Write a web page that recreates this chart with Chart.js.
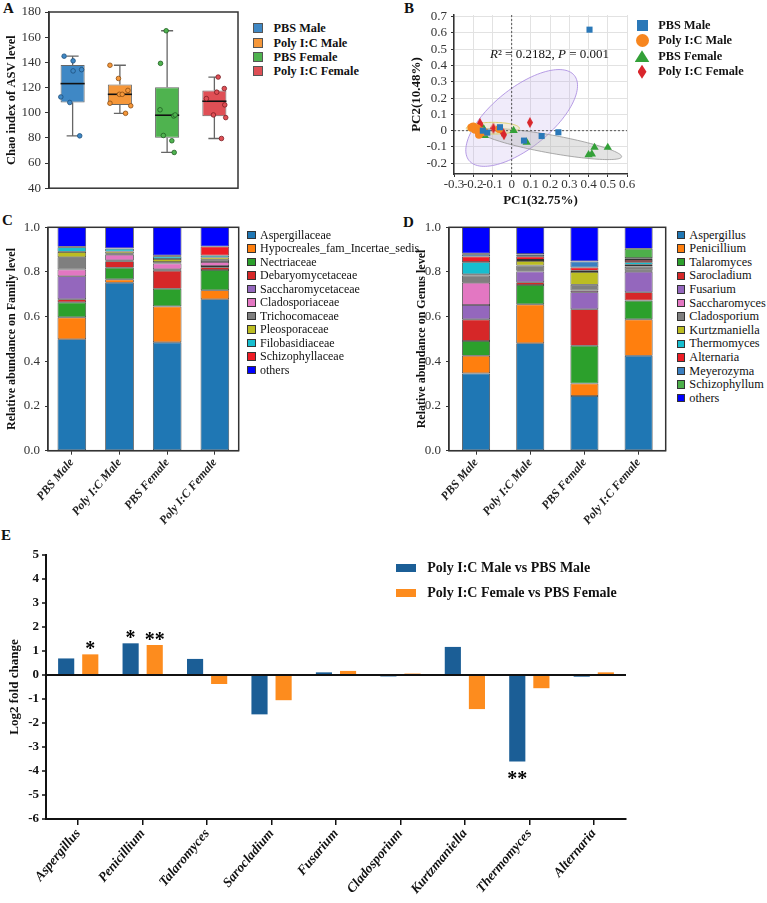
<!DOCTYPE html>
<html>
<head>
<meta charset="utf-8">
<script src="https://cdn.jsdelivr.net/npm/chart.js@4.4.1/dist/chart.umd.min.js"></script>
<style>
  body { margin: 0; background: #fff; font-family: "Liberation Serif", "Times New Roman", serif; color: #111; }
  #page { position: relative; width: 767px; height: 903px; overflow: hidden; }
  .panel { position: absolute; }
  .letter { position: absolute; font-weight: bold; font-size: 15px; line-height: 16px; }
  .legend-row { position: absolute; white-space: nowrap; }
  .legend-mark { position: absolute; box-sizing: border-box; }
  .stat { position: absolute; font-size: 13px; white-space: nowrap; line-height: 16px; }
</style>
</head>
<body>
<div id="page">
  <div class="letter" style="left:3px;top:0px">A</div>
  <div class="letter" style="left:404px;top:0px">B</div>
  <div class="letter" style="left:2px;top:212px">C</div>
  <div class="letter" style="left:403px;top:214px">D</div>
  <div class="letter" style="left:1px;top:527px">E</div>

  <canvas class="panel" id="chartA" width="245" height="200" style="left:0;top:0"></canvas>
  <canvas class="panel" id="chartB" width="259" height="210" style="left:380px;top:0"></canvas>
  <canvas class="panel" id="chartC" width="245" height="320" style="left:0;top:210px"></canvas>
  <canvas class="panel" id="chartD" width="290" height="320" style="left:380px;top:210px"></canvas>
  <canvas class="panel" id="chartE" width="767" height="373" style="left:0;top:530px"></canvas>

  <div class="stat" style="left:490px;top:46px"><i>R</i>² = 0.2182, <i>P</i> = 0.001</div>
</div>

<script>
const serif = "'Liberation Serif', 'Times New Roman', serif";
Chart.defaults.font.family = serif;
Chart.defaults.color = "#222";
Chart.defaults.animation = false;
Chart.defaults.plugins.legend.display = false;
Chart.defaults.plugins.tooltip.enabled = false;

// ---------- A: Chao index ----------
const groupsA = ["PBS Male", "Poly I:C Male", "PBS Female", "Poly I:C Female"];
const ticksA = [40, 60, 80, 100, 120, 140, 160, 180];
const boxMin = [81.6, 99.5, 68.4, 79.5];
const boxQ1 = [108.1, 106.2, 80.1, 97.2];
const boxMedian = [123.1, 114.6, 98.0, 109.1];
const boxQ3 = [137.9, 122.3, 120.2, 117.7];
const boxMax = [144.9, 137.7, 165.1, 128.3];
const chaoPBSMale = [144.9, 141.2, 133.2, 134.2, 112.5, 108.1, 81.6];
const chaoPolyMale = [137.7, 127.2, 114.6, 114.6, 117.7, 107.5, 105.5, 99.5];
const chaoPBSFemale = [165.1, 139.2, 102.3, 97.4, 98.2, 81.9, 77.7, 68.4];
const chaoPolyFemale = [128.3, 111.2, 116.3, 119.2, 106.2, 98.2, 96.1, 79.5];
// horizontal jitter of the dots, in category widths
const jitterPBSMale = [-0.18, 0.01, 0.01, 0.19, -0.25, -0.06, 0.15];
const jitterPolyMale = [-0.21, -0.03, -0.01, 0.05, 0.17, -0.21, 0.23, 0.12];
const jitterPBSFemale = [-0.02, -0.14, -0.15, 0.14, 0.17, -0.08, 0.1, 0.15];
const jitterPolyFemale = [0.08, -0.17, 0.05, 0.21, 0.22, -0.02, 0.24, 0.15];

// ---------- B: PCoA ----------
const pcTicksX = [-0.3, -0.2, -0.1, 0, 0.1, 0.2, 0.3, 0.4, 0.5, 0.6];
const pcTicksY = [-0.2, -0.1, 0, 0.1, 0.2, 0.3, 0.4, 0.5, 0.6, 0.7];
const pc1PBSMale = [0.405, 0.243, 0.156, 0.064, -0.061, -0.127, -0.15];
const pc2PBSMale = [0.62, -0.01, -0.033, -0.061, 0.021, -0.012, 0.0];
const pc1PolyMale = [-0.2, -0.19, -0.17, -0.18, -0.065, -0.16, -0.21, -0.14];
const pc2PolyMale = [0.025, 0.005, -0.025, 0.015, 0.01, 0.0, 0.02, -0.01];
const pc1PBSFemale = [0.01, 0.078, 0.431, 0.5, 0.4, 0.417, -0.14, -0.145];
const pc2PBSFemale = [0.0, -0.071, -0.103, -0.103, -0.148, -0.144, -0.03, 0.01];
const pc1PolyFemale = [0.095, -0.165, -0.095, -0.04, -0.18, -0.175, -0.05, -0.155];
const pc2PolyFemale = [0.05, 0.045, 0.015, -0.025, 0.0, -0.01, -0.005, 0.02];
// confidence ellipses: centre and two conjugate semi-axes, in PC units
const ellipseCenter = [[0.052, 0.078], [0.203, -0.082], [-0.098, 0.015]];
const ellipseAxisU = [[0.274, 0.261], [0.369, -0.0785], [0.138, 0.0]];
const ellipseAxisV = [[0.097, -0.142], [-0.0083, -0.0544], [0.0, 0.036]];

// ---------- C: family level ----------
const barGroups = ["PBS Male", "Poly I:C Male", "PBS Female", "Poly I:C Female"];
const abundanceTicks = [0, 0.2, 0.4, 0.6, 0.8, 1.0];
const familyNames = ["Aspergillaceae", "Hypocreales_fam_Incertae_sedis", "Nectriaceae", "Debaryomycetaceae",
  "Saccharomycetaceae", "Cladosporiaceae", "Trichocomaceae", "Pleosporaceae", "Filobasidiaceae",
  "Schizophyllaceae", "others"];
const famAspergillaceae = [0.499, 0.752, 0.485, 0.678];
const famHypocreales = [0.098, 0.015, 0.161, 0.040];
const famNectriaceae = [0.067, 0.052, 0.079, 0.091];
const famDebaryomycetaceae = [0.014, 0.029, 0.081, 0.012];
const famSaccharomycetaceae = [0.103, 0.004, 0.006, 0.006];
const famCladosporiaceae = [0.030, 0.025, 0.026, 0.018];
const famTrichocomaceae = [0.055, 0.005, 0.006, 0.010];
const famPleosporaceae = [0.024, 0.010, 0.014, 0.010];
const famFilobasidiaceae = [0.021, 0.012, 0.012, 0.009];
const famSchizophyllaceae = [0.002, 0.002, 0.003, 0.040];
const famOthers = [0.087, 0.094, 0.127, 0.086];

// ---------- D: genus level ----------
const genusNames = ["Aspergillus", "Penicillium", "Talaromyces", "Sarocladium", "Fusarium", "Saccharomyces",
  "Cladosporium", "Kurtzmaniella", "Thermomyces", "Alternaria", "Meyerozyma", "Schizophyllum", "others"];
const genAspergillus = [0.346, 0.481, 0.245, 0.425];
const genPenicillium = [0.079, 0.174, 0.056, 0.163];
const genTalaromyces = [0.066, 0.087, 0.169, 0.084];
const genSarocladium = [0.097, 0.012, 0.163, 0.037];
const genFusarium = [0.064, 0.048, 0.076, 0.092];
const genSaccharomyces = [0.100, 0.003, 0.008, 0.005];
const genCladosporium = [0.032, 0.024, 0.026, 0.018];
const genKurtzmaniella = [0.006, 0.020, 0.057, 0.008];
const genThermomyces = [0.054, 0.005, 0.005, 0.012];
const genAlternaria = [0.025, 0.016, 0.015, 0.010];
const genMeyerozyma = [0.010, 0.008, 0.027, 0.008];
const genSchizophyllum = [0.003, 0.002, 0.001, 0.042];
const genOthers = [0.118, 0.120, 0.152, 0.096];

// ---------- E: log2 fold change ----------
const genusE = ["Aspergillus", "Penicillium", "Talaromyces", "Sarocladium", "Fusarium", "Cladosporium",
  "Kurtzmaniella", "Thermomyces", "Alternaria"];
const ticksE = [-6, -5, -4, -3, -2, -1, 0, 1, 2, 3, 4, 5];
const log2Male = [0.69, 1.32, 0.67, -1.64, 0.11, -0.06, 1.17, -3.6, -0.07];
const log2Female = [0.86, 1.25, -0.375, -1.05, 0.17, 0.06, -1.42, -0.55, 0.11];
const sigMale = ["", "*", "", "", "", "", "", "**", ""];
const sigFemale = ["*", "**", "", "", "", "", "", "", ""];
const seriesE = ["Poly I:C Male vs PBS Male", "Poly I:C Female vs PBS Female"];

// ---------- colours ----------
const colorsA = ["#3f88c5", "#f5973a", "#4fb34f", "#df4f55"];
const dotBorderA = ["#1d4f7c", "#8c4c12", "#1f5f22", "#7c1c22"];
const colorsB = ["#2a78b8", "#f7861f", "#33a038", "#d9262c"];
const familyColors = ["#1f77b4", "#ff7f0e", "#2ca02c", "#d62728", "#9467bd", "#e377c2", "#7f7f7f",
  "#bcbd22", "#17becf", "#ee1c25", "#0000ff"];
const genusColors = ["#1f77b4", "#ff7f0e", "#2ca02c", "#d62728", "#9467bd", "#e377c2", "#7f7f7f",
  "#bcbd22", "#17becf", "#ee1c25", "#3a7fc1", "#4daf4a", "#0000ff"];
const colorsE = ["#1b5e96", "#fd8c1e"];

const setTicks = (values) => (scale) => { scale.ticks = values.map((v) => ({ value: v })); };

const framePlugin = {
  id: "frame",
  afterDraw(chart) {
    const { ctx, chartArea: a } = chart;
    ctx.save();
    ctx.strokeStyle = "#333";
    ctx.lineWidth = 1.5;
    ctx.strokeRect(a.left, a.top, a.right - a.left, a.bottom - a.top);
    ctx.restore();
  }
};

// ---------- chart A ----------
const boxPlugin = {
  id: "boxWhisker",
  beforeDatasetsDraw(chart) {
    const { ctx } = chart;
    const x = chart.scales.x;
    const y = chart.scales.y;
    ctx.save();
    ctx.strokeStyle = "#666";
    ctx.lineWidth = 1.3;
    groupsA.forEach((_, i) => {
      const cx = x.getPixelForValue(i);
      const top = y.getPixelForValue(boxMax[i]);
      const bottom = y.getPixelForValue(boxMin[i]);
      ctx.beginPath();
      ctx.moveTo(cx, top);
      ctx.lineTo(cx, y.getPixelForValue(boxQ3[i]));
      ctx.moveTo(cx, y.getPixelForValue(boxQ1[i]));
      ctx.lineTo(cx, bottom);
      ctx.moveTo(cx - 6, top);
      ctx.lineTo(cx + 6, top);
      ctx.moveTo(cx - 6, bottom);
      ctx.lineTo(cx + 6, bottom);
      ctx.stroke();
    });
    ctx.restore();
  },
  afterDatasetDraw(chart, args) {
    if (args.index !== 0) return;
    const { ctx } = chart;
    const y = chart.scales.y;
    ctx.save();
    ctx.strokeStyle = "#111";
    ctx.lineWidth = 1.6;
    args.meta.data.forEach((bar, i) => {
      const my = y.getPixelForValue(boxMedian[i]);
      ctx.beginPath();
      ctx.moveTo(bar.x - bar.width / 2, my);
      ctx.lineTo(bar.x + bar.width / 2, my);
      ctx.stroke();
    });
    ctx.restore();
  }
};

const chaoSeries = [chaoPBSMale, chaoPolyMale, chaoPBSFemale, chaoPolyFemale];
const jitterSeries = [jitterPBSMale, jitterPolyMale, jitterPBSFemale, jitterPolyFemale];

new Chart(document.getElementById("chartA"), {
  type: "bar",
  data: {
    datasets: [
      {
        type: "bar",
        data: groupsA.map((g, i) => ({ x: i, y: [boxQ1[i], boxQ3[i]] })),
        backgroundColor: colorsA,
        borderColor: "#666",
        borderWidth: 1,
        borderSkipped: false,
        grouped: false,
        barPercentage: 0.51,
        categoryPercentage: 1,
        order: 2
      },
      ...chaoSeries.map((values, g) => ({
        type: "scatter",
        label: groupsA[g],
        data: values.map((v, k) => ({ x: g + jitterSeries[g][k], y: v })),
        pointRadius: 2.3,
        pointBackgroundColor: colorsA[g],
        pointBorderColor: dotBorderA[g],
        pointBorderWidth: 0.8,
        order: 1
      }))
    ]
  },
  options: {
    responsive: false,
    layout: { padding: { top: 12, right: 7, left: 0, bottom: 0 } },
    scales: {
      x: {
        type: "linear",
        min: -0.5,
        max: 3.5,
        offset: false,
        afterFit: (s) => { s.height = 10; },
        ticks: { display: false },
        grid: { display: false },
        border: { display: false }
      },
      y: {
        min: 40,
        max: 180,
        afterBuildTicks: setTicks(ticksA),
        afterFit: (s) => { s.width = 49; },
        ticks: { font: { size: 13 }, color: "#333", padding: 4, autoSkip: false },
        grid: { drawOnChartArea: false, tickLength: 4, color: "#333" },
        border: { color: "#333", width: 1.5 },
        title: {
          display: true, text: "Chao index of ASV level", color: "#111",
          font: { size: 12.5, weight: "bold" }, padding: { top: 4.5, bottom: 0 }
        }
      }
    }
  },
  plugins: [boxPlugin, framePlugin]
});

// ---------- chart B ----------
function makeDiamond(w, h, color) {
  const c = document.createElement("canvas");
  c.width = w;
  c.height = h;
  const g = c.getContext("2d");
  g.fillStyle = color;
  g.beginPath();
  g.moveTo(w / 2, 0);
  g.lineTo(w, h / 2);
  g.lineTo(w / 2, h);
  g.lineTo(0, h / 2);
  g.closePath();
  g.fill();
  return c;
}

const ellipseFill = ["rgba(185,165,230,0.22)", "rgba(175,175,175,0.35)", "rgba(240,232,160,0.35)"];
const ellipseStroke = ["rgba(170,140,225,0.85)", "rgba(150,150,150,0.8)", "rgba(215,205,100,0.9)"];

const pcoaPlugin = {
  id: "pcoaExtras",
  beforeDatasetsDraw(chart) {
    const { ctx, chartArea: a } = chart;
    const x = chart.scales.x;
    const y = chart.scales.y;
    ctx.save();
    ellipseCenter.forEach((c, e) => {
      const u = ellipseAxisU[e];
      const v = ellipseAxisV[e];
      ctx.beginPath();
      for (let s = 0; s <= 120; s++) {
        const t = (s / 120) * Math.PI * 2;
        const px = x.getPixelForValue(c[0] + Math.cos(t) * u[0] + Math.sin(t) * v[0]);
        const py = y.getPixelForValue(c[1] + Math.cos(t) * u[1] + Math.sin(t) * v[1]);
        if (s === 0) ctx.moveTo(px, py); else ctx.lineTo(px, py);
      }
      ctx.closePath();
      ctx.fillStyle = ellipseFill[e];
      ctx.fill();
      ctx.strokeStyle = ellipseStroke[e];
      ctx.lineWidth = 1;
      ctx.stroke();
    });
    ctx.strokeStyle = "#555";
    ctx.lineWidth = 1;
    ctx.setLineDash([2, 2]);
    const zx = x.getPixelForValue(0);
    const zy = y.getPixelForValue(0);
    ctx.beginPath();
    ctx.moveTo(zx, a.top);
    ctx.lineTo(zx, a.bottom);
    ctx.moveTo(a.left, zy);
    ctx.lineTo(a.right, zy);
    ctx.stroke();
    ctx.restore();
  }
};

const pcSeries = [
  [pc1PBSMale, pc2PBSMale, "rect", 4.3],
  [pc1PolyMale, pc2PolyMale, "circle", 4],
  [pc1PBSFemale, pc2PBSFemale, "triangle", 4.8],
  [pc1PolyFemale, pc2PolyFemale, makeDiamond(6, 11, colorsB[3]), 5]
];

new Chart(document.getElementById("chartB"), {
  type: "scatter",
  data: {
    datasets: pcSeries.map(([xs, ys, style, r], g) => ({
      label: groupsA[g],
      data: xs.map((v, k) => ({ x: v, y: ys[k] })),
      pointStyle: style,
      pointRadius: r,
      backgroundColor: colorsB[g],
      borderWidth: 0
    }))
  },
  options: {
    responsive: false,
    layout: { padding: { top: 15, right: 12, left: 0, bottom: 0 } },
    scales: {
      x: {
        type: "linear",
        min: -0.3,
        max: 0.6,
        afterBuildTicks: setTicks(pcTicksX),
        afterFit: (s) => { s.height = 36; },
        ticks: {
          font: { size: 13 }, color: "#333", padding: 0, maxRotation: 0, autoSkip: false,
          callback: (v) => String(v)
        },
        grid: { color: "#e2e2e2", tickColor: "#333", tickLength: 3 },
        border: { color: "#333", width: 1.5 },
        title: {
          display: true, text: "PC1(32.75%)", color: "#111",
          font: { size: 13, weight: "bold" }, padding: { top: 0, bottom: 2 }
        }
      },
      y: {
        type: "linear",
        min: -0.266,
        max: 0.71,
        afterBuildTicks: setTicks(pcTicksY),
        afterFit: (s) => { s.width = 74; },
        ticks: { font: { size: 13 }, color: "#333", padding: 4, autoSkip: false, callback: (v) => String(v) },
        grid: { color: "#e2e2e2", tickColor: "#333", tickLength: 3 },
        border: { color: "#333", width: 1.5 },
        title: {
          display: true, text: "PC2(10.48%)", color: "#111",
          font: { size: 13, weight: "bold" }, padding: { top: 29, bottom: 0 }
        }
      }
    }
  },
  plugins: [pcoaPlugin]
});

// ---------- charts C and D ----------
function stackedConfig(names, series, colors, yTitle, yWidth, titlePad, rightPad, barPct) {
  return {
    type: "bar",
    data: {
      labels: barGroups,
      datasets: names.map((name, k) => ({
        label: name,
        data: series[k],
        backgroundColor: colors[k],
        borderColor: "#333",
        borderWidth: 0.8,
        borderSkipped: false,
        barPercentage: barPct,
        categoryPercentage: 1
      }))
    },
    options: {
      responsive: false,
      layout: { padding: { top: 17.3, right: rightPad, left: 0, bottom: 0 } },
      scales: {
        x: {
          stacked: true,
          afterFit: (s) => { s.height = 79.3; },
          ticks: {
            minRotation: 50, maxRotation: 50, padding: 1, color: "#222", autoSkip: false,
            font: { size: 12, weight: "bold", style: "italic" }
          },
          grid: { drawOnChartArea: false, offset: false, tickLength: 4, color: "#333" },
          border: { color: "#333", width: 1.2 }
        },
        y: {
          stacked: true,
          min: 0,
          max: 1,
          afterBuildTicks: setTicks(abundanceTicks),
          afterFit: (s) => { s.width = yWidth; },
          ticks: { font: { size: 13 }, color: "#333", padding: 5, autoSkip: false, callback: (v) => v.toFixed(1) },
          grid: { drawOnChartArea: false, tickLength: 3, color: "#333" },
          border: { color: "#333", width: 1.2 },
          title: {
            display: true, text: yTitle, color: "#111",
            font: { size: 12, weight: "bold" }, padding: { top: titlePad, bottom: 0 }
          }
        }
      }
    },
    plugins: [framePlugin]
  };
}

const familySeries = [famAspergillaceae, famHypocreales, famNectriaceae, famDebaryomycetaceae,
  famSaccharomycetaceae, famCladosporiaceae, famTrichocomaceae, famPleosporaceae, famFilobasidiaceae,
  famSchizophyllaceae, famOthers];
const genusSeries = [genAspergillus, genPenicillium, genTalaromyces, genSarocladium, genFusarium,
  genSaccharomyces, genCladosporium, genKurtzmaniella, genThermomyces, genAlternaria, genMeyerozyma,
  genSchizophyllum, genOthers];

new Chart(document.getElementById("chartC"),
  stackedConfig(familyNames, familySeries, familyColors, "Relative abundance on Family level", 48, 4.5, 6.3, 0.6));
new Chart(document.getElementById("chartD"),
  stackedConfig(genusNames, genusSeries, genusColors, "Relative abundance on Genus level", 69, 34.5, 4.3, 0.517));

// ---------- chart E ----------
const sigPlugin = {
  id: "significance",
  afterDatasetsDraw(chart) {
    const { ctx } = chart;
    ctx.save();
    ctx.font = "bold 20px " + serif;
    ctx.fillStyle = "#000";
    ctx.textAlign = "center";
    ctx.textBaseline = "alphabetic";
    [sigMale, sigFemale].forEach((marks, d) => {
      const values = chart.data.datasets[d].data;
      chart.getDatasetMeta(d).data.forEach((bar, i) => {
        if (!marks[i]) return;
        ctx.fillText(marks[i], bar.x, values[i] >= 0 ? bar.y + 0.5 : bar.y + 24);
      });
    });
    ctx.restore();
  }
};

new Chart(document.getElementById("chartE"), {
  type: "bar",
  data: {
    labels: genusE,
    datasets: [log2Male, log2Female].map((values, d) => ({
      label: seriesE[d],
      data: values,
      backgroundColor: colorsE[d],
      borderWidth: 0,
      barPercentage: 0.67,
      categoryPercentage: 0.748
    }))
  },
  options: {
    responsive: false,
    layout: { padding: { top: 25, right: 141, left: 0, bottom: 0 } },
    scales: {
      x: {
        afterFit: (s) => { s.height = 84; },
        ticks: {
          minRotation: 50, maxRotation: 50, padding: 1, color: "#111", autoSkip: false,
          font: { size: 13.5, weight: "bold", style: "italic" }
        },
        grid: { drawOnChartArea: false, offset: false, tickLength: 6, color: "#111", lineWidth: 1.5 },
        border: { color: "#111", width: 2 }
      },
      y: {
        min: -6,
        max: 5,
        afterBuildTicks: setTicks(ticksE),
        afterFit: (s) => { s.width = 46; },
        ticks: { font: { size: 13, weight: "bold" }, color: "#111", padding: 3, autoSkip: false },
        grid: {
          color: (c) => (c.tick && c.tick.value === 0 ? "#111" : "rgba(0,0,0,0)"),
          lineWidth: (c) => (c.tick && c.tick.value === 0 ? 2 : 0),
          tickColor: "#111",
          tickWidth: 1.5,
          tickLength: 4
        },
        border: { color: "#111", width: 2 },
        title: {
          display: true, text: "Log2 fold change", color: "#111",
          font: { size: 13, weight: "bold" }, padding: { top: 7.2, bottom: 0 }
        }
      }
    }
  },
  plugins: [sigPlugin]
});

// ---------- HTML legends ----------
const page = document.getElementById("page");

function addLegend(spec) {
  spec.names.forEach((name, i) => {
    const cy = spec.top + i * spec.step;
    const mark = document.createElement("div");
    mark.className = "legend-mark";
    const m = spec.mark(i);
    mark.style.cssText += `left:${spec.markLeft + (m.dx || 0)}px;top:${cy - m.h / 2}px;width:${m.w}px;height:${m.h}px;` +
      `background:${m.color};${m.css || ""}`;
    page.appendChild(mark);
    const row = document.createElement("div");
    row.className = "legend-row";
    row.textContent = name;
    row.style.cssText += `left:${spec.textLeft}px;top:${cy - spec.lineH / 2}px;line-height:${spec.lineH}px;` +
      `font-size:${spec.fontSize}px;font-weight:${spec.weight};color:#111;`;
    page.appendChild(row);
  });
}

addLegend({
  names: groupsA, top: 28.3, step: 14.3, markLeft: 253, textLeft: 273.5, lineH: 14, fontSize: 12.3, weight: "bold",
  mark: (i) => ({ w: 10, h: 10, color: colorsA[i], css: "border:1px solid #555;" })
});

const legendShapesB = [
  { w: 11, h: 11, dx: -0.5, css: "" },
  { w: 13, h: 13, dx: -1.5, css: "border-radius:50%;" },
  { w: 15, h: 12, dx: -2.5, css: "clip-path:polygon(50% 0,100% 100%,0 100%);" },
  { w: 9, h: 14, dx: 0.5, css: "clip-path:polygon(50% 0,100% 50%,50% 100%,0 50%);" }
];
addLegend({
  names: groupsA, top: 25, step: 15.6, markLeft: 637, textLeft: 658.3, lineH: 15, fontSize: 12.3, weight: "bold",
  mark: (i) => Object.assign({ color: colorsB[i] }, legendShapesB[i])
});

addLegend({
  names: familyNames, top: 235, step: 13.5, markLeft: 247.3, textLeft: 260, lineH: 13, fontSize: 12, weight: "normal",
  mark: (i) => ({ w: 8.5, h: 8.5, color: familyColors[i], css: "border:1px solid #333;" })
});

addLegend({
  names: genusNames, top: 235, step: 13.6, markLeft: 676.7, textLeft: 689.3, lineH: 13, fontSize: 12.3, weight: "normal",
  mark: (i) => ({ w: 8.5, h: 8.5, color: genusColors[i], css: "border:1px solid #333;" })
});

addLegend({
  names: seriesE, top: 568, step: 24.5, markLeft: 396.3, textLeft: 427.3, lineH: 16, fontSize: 14, weight: "bold",
  mark: (i) => ({ w: 20, h: 8, color: colorsE[i] })
});
</script>
</body>
</html>
